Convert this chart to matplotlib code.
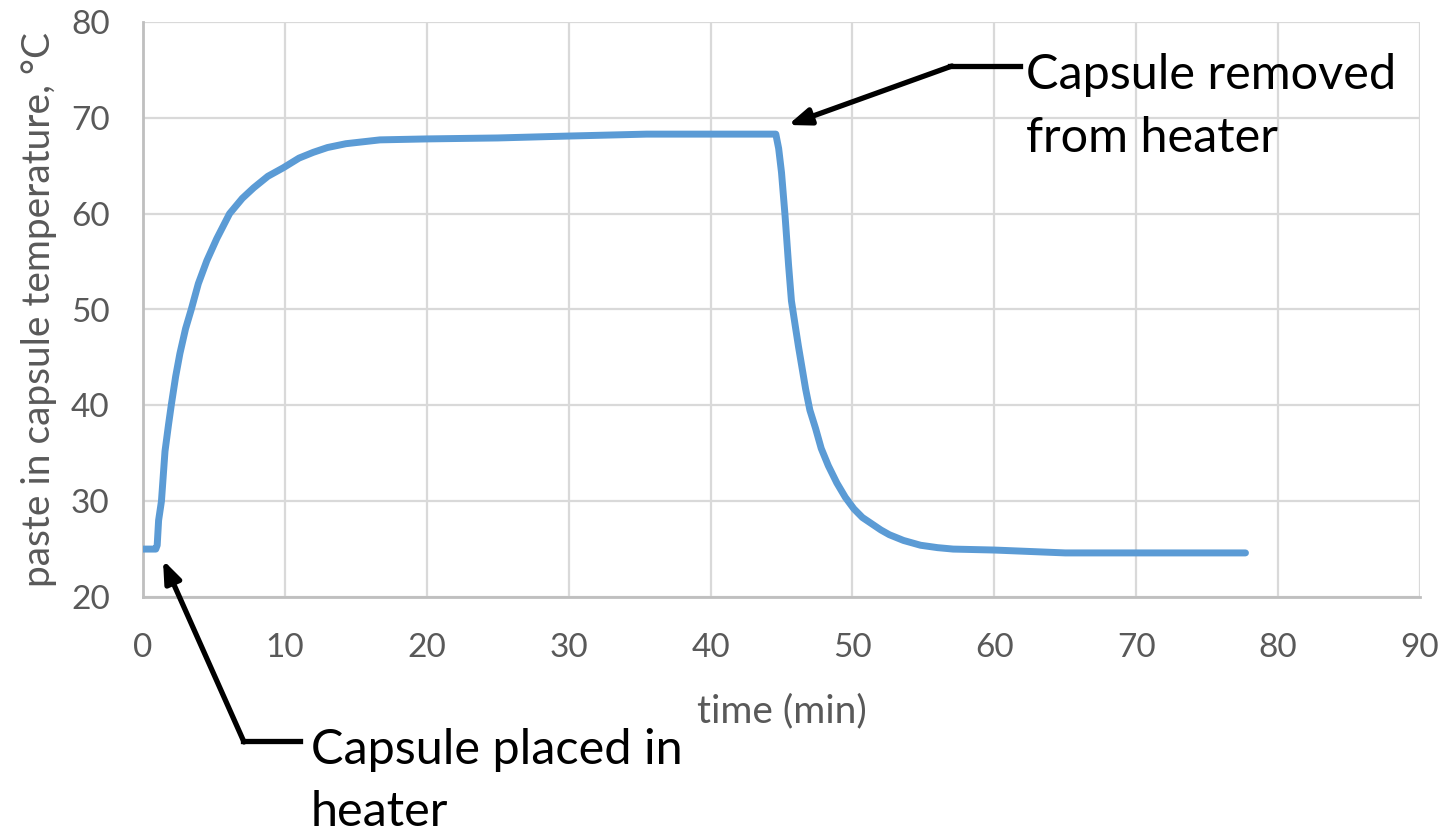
import matplotlib.pyplot as plt
from matplotlib.lines import Line2D

plt.rcParams['font.family'] = ['Lato', 'DejaVu Sans']

# Paste temperature inside the capsule over time
time_min = [0, 0.9, 1.0, 1.1, 1.3, 1.55, 1.8, 2.0, 2.3, 2.6, 3.0, 3.4, 3.9, 4.5, 5.2, 6.1, 7.0, 7.8, 8.8, 9.9,
            11.0, 12.0, 13.0, 14.3, 16.7, 20, 25, 30, 35.5, 40, 44.6,
            44.8, 45.0, 45.25, 45.5, 45.7, 46.0, 46.2, 46.7, 47.0, 47.4, 47.8, 48.3, 48.9, 49.5,
            50.1, 50.7, 52.0, 52.6, 53.6, 54.8, 56.0, 57.1, 60, 65, 70, 77.7]
temp_c = [25.0, 25.0, 25.4, 28.0, 30.0, 35.2, 38.0, 40.1, 43.0, 45.4, 48.0, 50.0, 52.7, 55.1, 57.4, 60.0, 61.6, 62.7, 63.9, 64.8,
          65.8, 66.4, 66.9, 67.3, 67.7, 67.8, 67.9, 68.1, 68.3, 68.3, 68.3,
          66.8, 64.3, 59.8, 54.6, 50.9, 48.0, 46.1, 41.7, 39.5, 37.6, 35.5, 33.7, 31.9, 30.4,
          29.2, 28.3, 27.0, 26.5, 25.9, 25.4, 25.15, 25.0, 24.9, 24.6, 24.6, 24.6]

x_ticks = list(range(0, 91, 10))
y_ticks = list(range(20, 81, 10))

W, H = 1446, 834
fig = plt.figure(figsize=(W / 100, H / 100), dpi=100)
ax = fig.add_axes([143 / W, 1 - 597 / H, (1420 - 143) / W, (597 - 22) / H])

ax.plot(time_min, temp_c, color='#5B9BD5', linewidth=5,
        solid_capstyle='round', solid_joinstyle='round', zorder=3)

ax.set_xlim(0, 90)
ax.set_ylim(20, 80)
ax.set_xticks(x_ticks)
ax.set_yticks(y_ticks)
ax.grid(True, color='#D9D9D9', linewidth=1.6)
ax.set_axisbelow(True)
for side in ['top', 'right']:
    ax.spines[side].set_visible(False)
for side in ['left', 'bottom']:
    ax.spines[side].set_color('#BFBFBF')
    ax.spines[side].set_linewidth(2)
ax.tick_params(length=0, labelsize=24, labelcolor='#595959')
ax.tick_params(axis='x', pad=26)
ax.tick_params(axis='y', pad=24)

ax.set_xlabel('time (min)', fontsize=28, color='#595959', labelpad=22)
ax.set_ylabel('paste in capsule temperature, °C', fontsize=28, color='#595959', labelpad=10)


def px(x, y):
    return (x / W, 1 - y / H)


arrow_style = dict(arrowstyle='-|>,head_length=1.3,head_width=0.5',
                   color='black', linewidth=3.8, shrinkA=0, shrinkB=0)

# Callout: capsule removed
fig.add_artist(Line2D([950 / W, 1020 / W], [1 - 66 / H, 1 - 66 / H],
                      color='black', linewidth=3.8, transform=fig.transFigure))
ax.annotate('', xy=px(788, 125), xycoords='figure fraction',
            xytext=px(952, 66), textcoords='figure fraction', arrowprops=arrow_style)
fig.text(1026 / W, 1 - 75 / H, 'Capsule removed', fontsize=35,
         color='black', va='center', ha='left')
fig.text(1026 / W, 1 - 138 / H, 'from heater', fontsize=35,
         color='black', va='center', ha='left')

# Callout: capsule placed
fig.add_artist(Line2D([243 / W, 300 / W], [1 - 741 / H, 1 - 741 / H],
                      color='black', linewidth=3.8, transform=fig.transFigure))
ax.annotate('', xy=px(163, 560), xycoords='figure fraction',
            xytext=px(244, 742), textcoords='figure fraction', arrowprops=arrow_style)
fig.text(311 / W, 1 - 750 / H, 'Capsule placed in', fontsize=35,
         color='black', va='center', ha='left')
fig.text(311 / W, 1 - 812 / H, 'heater', fontsize=35,
         color='black', va='center', ha='left')

fig.savefig('out.png', dpi=100)
